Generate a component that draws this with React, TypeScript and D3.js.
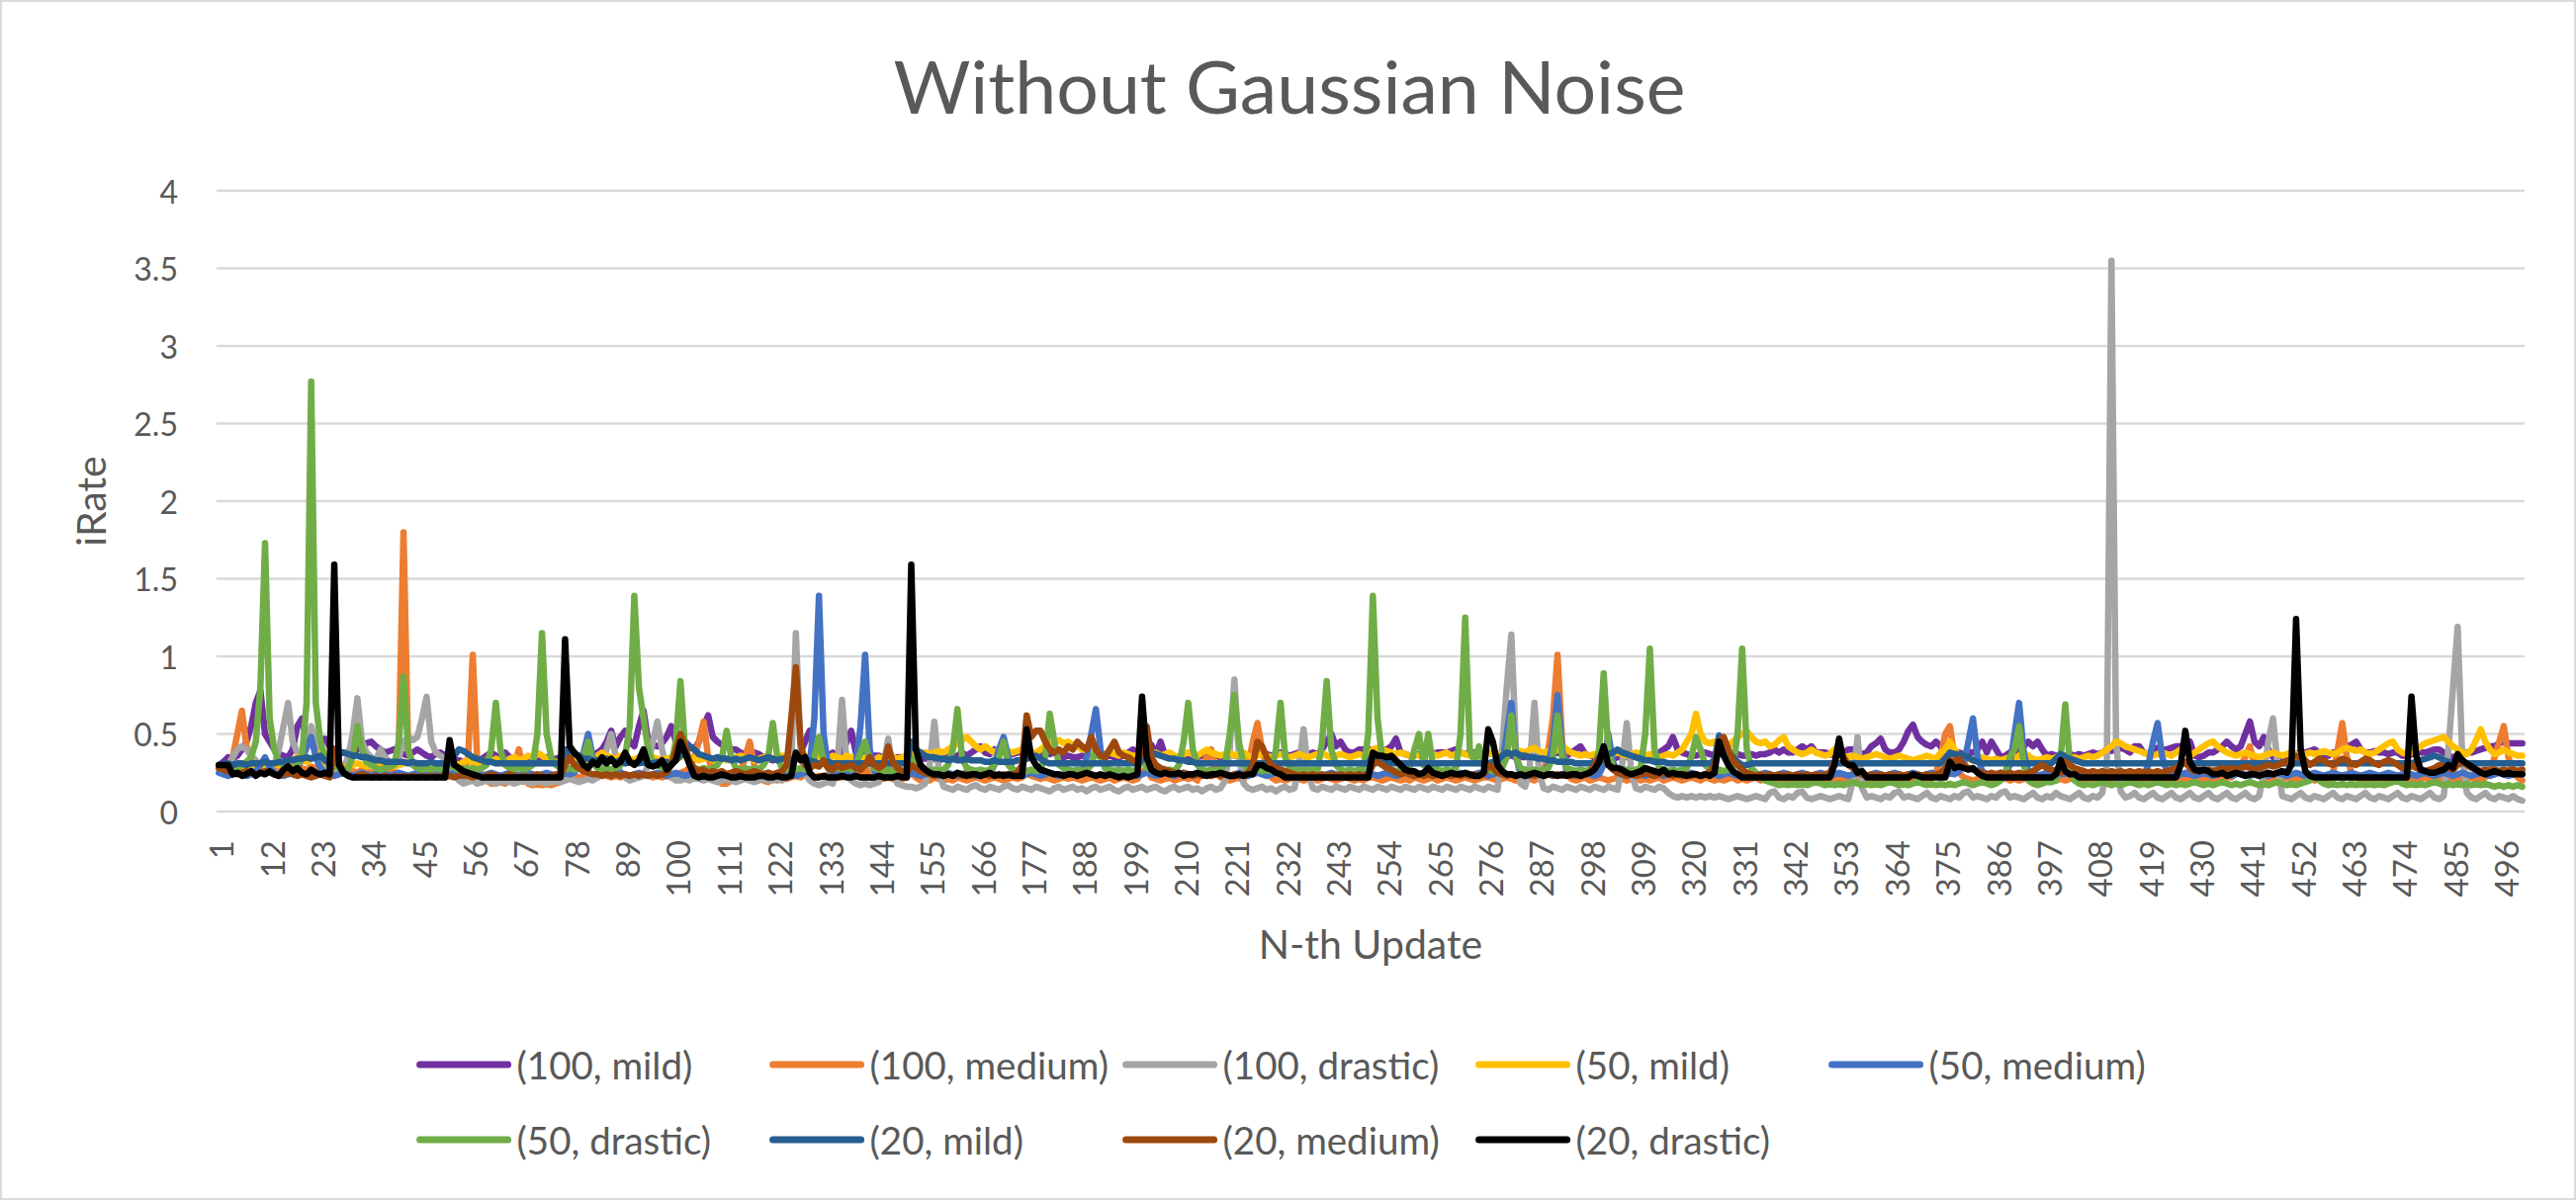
import React from 'react';
import * as d3 from 'd3';

const seriesNames = ['(100, mild)', '(100, medium)', '(100, drastic)', '(50, mild)', '(50, medium)', '(50, drastic)', '(20, mild)', '(20, medium)', '(20, drastic)'];
const seriesColors = ['#7030A0', '#ED7D31', '#A5A5A5', '#FFC000', '#4472C4', '#70AD47', '#255E91', '#9E480E', '#000000'];
const categories = Array.from({ length: 500 }, (_, i) => i + 1);
const xTickLabels = [1,12,23,34,45,56,67,78,89,100,111,122,133,144,155,166,177,188,199,210,221,232,243,254,265,276,287,298,309,320,331,342,353,364,375,386,397,408,419,430,441,452,463,474,485,496];
const yTicks = [0, 0.5, 1, 1.5, 2, 2.5, 3, 3.5, 4];

const s100Mild = [
.30,.32,.35,.34,.36,.40,.45,.55,.70,.78,.50,.45,.40,.37,.36,.35,.40,.55,.60,.45,.43,.44,.46,.47,.42,
.40,.38,.38,.37,.38,.40,.42,.44,.45,.42,.40,.38,.39,.40,.38,.37,.36,.38,.40,.38,.36,.35,.37,.38,.36,
.33,.32,.33,.32,.33,.32,.32,.34,.36,.38,.36,.34,.38,.35,.33,.32,.33,.34,.33,.32,.34,.35,.33,.34,.35,
.33,.35,.34,.36,.35,.34,.36,.38,.40,.45,.52,.42,.48,.52,.45,.42,.55,.65,.45,.43,.42,.44,.48,.55,.45,
.44,.45,.42,.40,.45,.55,.62,.48,.45,.43,.42,.40,.40,.38,.37,.36,.38,.37,.35,.34,.33,.34,.35,.36,.35,
.34,.38,.45,.52,.40,.36,.35,.36,.38,.36,.37,.45,.52,.38,.37,.38,.37,.36,.36,.35,.35,.34,.35,.35,.34,
.34,.35,.34,.34,.35,.34,.33,.34,.35,.35,.36,.38,.36,.38,.40,.42,.38,.37,.40,.38,.39,.38,.37,.38,.38,
.37,.38,.36,.37,.38,.37,.38,.36,.35,.36,.35,.35,.36,.37,.38,.36,.37,.35,.36,.35,.35,.36,.38,.40,.38,
.36,.38,.43,.37,.45,.36,.35,.35,.34,.35,.36,.35,.35,.36,.35,.36,.36,.35,.36,.37,.36,.36,.37,.36,.38,
.37,.38,.37,.36,.37,.38,.37,.36,.37,.38,.38,.37,.38,.37,.40,.45,.50,.42,.45,.40,.38,.38,.40,.40,.40,
.40,.38,.39,.40,.42,.47,.38,.37,.36,.36,.37,.37,.38,.37,.38,.38,.38,.39,.40,.38,.37,.38,.38,.37,.38,
.38,.37,.36,.36,.36,.36,.35,.35,.35,.35,.35,.36,.35,.36,.37,.38,.37,.36,.38,.40,.42,.37,.36,.35,.35,
.35,.35,.34,.35,.35,.35,.36,.35,.36,.35,.36,.37,.38,.40,.42,.48,.40,.38,.37,.36,.36,.37,.38,.37,.36,
.37,.37,.36,.36,.37,.36,.36,.37,.36,.37,.37,.38,.40,.38,.40,.38,.38,.40,.42,.40,.42,.38,.38,.38,.37,
.36,.37,.38,.40,.40,.38,.37,.38,.42,.44,.47,.40,.38,.38,.40,.45,.52,.56,.48,.45,.43,.42,.45,.42,.35,
.36,.38,.38,.37,.38,.38,.40,.45,.38,.45,.40,.35,.36,.38,.40,.38,.42,.45,.42,.45,.40,.36,.37,.36,.36,
.36,.37,.36,.37,.36,.37,.38,.37,.38,.40,.39,.40,.41,.40,.38,.42,.42,.38,.37,.40,.41,.40,.40,.41,.42,
.42,.44,.45,.36,.35,.36,.38,.38,.40,.42,.45,.42,.40,.42,.50,.58,.45,.42,.48,.40,.35,.34,.34,.36,.36,
.37,.38,.38,.39,.40,.38,.36,.36,.38,.38,.40,.42,.43,.45,.40,.38,.38,.39,.38,.38,.37,.38,.38,.36,.36,
.37,.38,.38,.38,.39,.40,.40,.38,.36,.35,.36,.37,.38,.38,.39,.40,.41,.42,.42,.44,.45,.44,.44,.44,.44
];

const s100Medium = [
.28,.27,.30,.35,.50,.65,.42,.35,.30,.28,.27,.28,.27,.29,.28,.27,.28,.30,.28,.27,.29,.28,.27,.26,.27,
.26,.27,.26,.25,.26,.25,.27,.26,.25,.24,.25,.26,.25,.28,.45,1.80,.40,.30,.28,.27,.26,.25,.26,.25,.24,
.24,.23,.22,.22,.35,1.01,.30,.22,.20,.18,.18,.19,.18,.20,.30,.40,.25,.18,.17,.18,.17,.18,.17,.18,.19,
.22,.24,.23,.22,.23,.22,.23,.22,.24,.23,.22,.23,.22,.23,.22,.23,.22,.23,.24,.22,.23,.22,.23,.22,.24,
.25,.26,.28,.35,.45,.58,.35,.25,.20,.18,.18,.20,.22,.25,.35,.45,.30,.22,.20,.19,.21,.20,.22,.21,.22,
.23,.22,.24,.23,.22,.23,.22,.24,.23,.22,.22,.23,.22,.24,.22,.30,.22,.21,.22,.21,.22,.21,.20,.21,.22,
.25,.22,.20,.21,.20,.22,.21,.20,.21,.20,.22,.21,.20,.21,.22,.21,.20,.21,.22,.21,.20,.21,.22,.21,.22,
.25,.23,.22,.21,.22,.21,.20,.21,.22,.21,.22,.21,.20,.21,.22,.21,.20,.21,.22,.20,.21,.22,.21,.20,.21,
.25,.28,.22,.21,.20,.21,.22,.20,.21,.22,.21,.22,.20,.30,.35,.40,.28,.22,.21,.20,.21,.22,.20,.30,.45,
.57,.40,.28,.22,.20,.21,.20,.21,.22,.21,.20,.21,.22,.20,.21,.22,.21,.20,.21,.22,.21,.20,.21,.20,.22,
.22,.21,.20,.21,.22,.21,.20,.21,.20,.22,.21,.20,.21,.22,.20,.21,.22,.21,.20,.21,.22,.21,.20,.21,.22,
.22,.21,.20,.21,.22,.21,.20,.21,.22,.21,.20,.22,.25,.40,.60,1.01,.45,.25,.21,.20,.21,.22,.20,.21,.22,
.21,.20,.21,.22,.21,.20,.21,.22,.20,.21,.20,.21,.22,.20,.21,.22,.21,.20,.21,.22,.21,.20,.22,.21,.20,
.21,.20,.21,.22,.20,.21,.20,.21,.22,.20,.21,.20,.21,.22,.20,.21,.20,.21,.22,.20,.21,.20,.21,.22,.20,
.21,.20,.21,.22,.20,.21,.20,.21,.22,.20,.21,.20,.21,.22,.20,.21,.20,.21,.22,.20,.21,.22,.25,.35,.50,
.55,.35,.25,.22,.21,.20,.21,.22,.20,.21,.20,.21,.22,.20,.21,.20,.21,.22,.20,.21,.20,.21,.22,.20,.21,
.20,.21,.22,.20,.21,.20,.21,.22,.20,.21,.20,.21,.22,.20,.21,.20,.21,.22,.20,.21,.20,.21,.22,.20,.21,
.20,.21,.22,.20,.21,.20,.21,.22,.20,.21,.22,.22,.25,.30,.35,.42,.30,.25,.22,.20,.21,.20,.21,.22,.20,
.21,.20,.21,.22,.20,.21,.20,.21,.25,.40,.57,.35,.25,.22,.20,.21,.20,.21,.22,.20,.21,.20,.21,.22,.20,
.21,.20,.21,.22,.20,.21,.20,.21,.22,.20,.21,.20,.21,.22,.20,.21,.22,.25,.35,.45,.55,.35,.25,.22,.20
];

const s100Drastic = [
.30,.28,.30,.35,.40,.42,.40,.36,.33,.30,.28,.27,.30,.40,.55,.70,.45,.38,.35,.40,.55,.45,.35,.30,.28,
.26,.27,.28,.35,.50,.73,.45,.38,.35,.33,.40,.35,.32,.30,.35,.45,.48,.46,.48,.60,.74,.45,.38,.36,.34,
.30,.25,.20,.18,.19,.20,.18,.19,.20,.19,.18,.19,.20,.19,.18,.19,.20,.19,.18,.20,.19,.18,.19,.20,.19,
.20,.21,.20,.19,.20,.21,.20,.22,.30,.40,.50,.35,.25,.22,.20,.21,.22,.23,.30,.45,.58,.40,.28,.22,.20,
.20,.21,.20,.22,.21,.20,.21,.20,.19,.20,.21,.20,.19,.20,.21,.20,.19,.20,.21,.20,.20,.21,.20,.22,.30,
1.15,.40,.25,.20,.18,.17,.18,.19,.18,.30,.72,.30,.20,.18,.17,.18,.17,.18,.19,.30,.47,.25,.18,.17,.16,
.16,.15,.16,.18,.30,.58,.25,.16,.15,.14,.16,.15,.14,.16,.17,.15,.14,.16,.15,.14,.16,.17,.15,.14,.16,
.15,.14,.16,.15,.14,.13,.15,.16,.14,.15,.16,.14,.15,.13,.15,.16,.14,.15,.16,.14,.13,.15,.16,.14,.15,
.16,.14,.15,.16,.14,.13,.15,.16,.14,.15,.16,.14,.15,.13,.15,.16,.14,.15,.20,.40,.85,.35,.18,.15,.14,
.15,.16,.14,.15,.13,.15,.16,.14,.15,.30,.53,.25,.15,.14,.16,.15,.14,.16,.15,.14,.16,.15,.14,.16,.15,
.14,.16,.15,.14,.16,.15,.14,.16,.15,.14,.16,.15,.14,.16,.15,.14,.16,.15,.14,.16,.15,.14,.16,.15,.14,
.16,.15,.14,.40,.80,1.14,.40,.18,.16,.30,.70,.25,.15,.14,.16,.15,.14,.16,.15,.14,.16,.15,.14,.16,.15,
.14,.16,.15,.14,.30,.57,.25,.15,.14,.16,.15,.14,.16,.15,.12,.10,.09,.10,.09,.10,.09,.10,.09,.10,.09,
.10,.09,.08,.09,.10,.09,.08,.09,.10,.09,.08,.12,.13,.09,.08,.10,.09,.12,.13,.09,.08,.09,.10,.09,.08,
.09,.10,.09,.08,.20,.48,.15,.09,.10,.09,.08,.10,.09,.12,.13,.09,.10,.09,.08,.10,.12,.09,.08,.10,.09,
.08,.10,.09,.12,.13,.09,.10,.09,.08,.10,.09,.12,.13,.09,.10,.09,.08,.10,.12,.09,.08,.10,.09,.12,.10,
.09,.08,.10,.12,.09,.08,.10,.09,.12,.30,3.55,.45,.13,.09,.10,.12,.09,.08,.10,.12,.09,.08,.10,.12,.09,
.08,.10,.12,.09,.08,.10,.12,.09,.08,.10,.12,.09,.08,.10,.12,.09,.08,.10,.25,.45,.60,.30,.10,.09,.08,
.10,.12,.09,.08,.10,.09,.08,.10,.12,.09,.08,.10,.09,.08,.10,.12,.09,.08,.10,.09,.08,.10,.12,.09,.08,
.10,.09,.08,.10,.12,.09,.08,.10,.40,.80,1.19,.35,.12,.09,.08,.10,.12,.09,.08,.10,.09,.08,.10,.08,.07
];

const s50Mild = [
.28,.27,.28,.29,.28,.27,.28,.29,.30,.28,.29,.30,.31,.30,.31,.32,.33,.35,.33,.32,.34,.36,.38,.32,.30,
.29,.30,.28,.29,.30,.31,.30,.29,.30,.31,.30,.31,.30,.29,.30,.31,.32,.31,.30,.31,.30,.29,.30,.31,.30,
.30,.31,.30,.32,.33,.32,.31,.32,.33,.32,.34,.33,.32,.34,.35,.33,.34,.36,.35,.38,.36,.34,.33,.32,.31,
.32,.34,.33,.35,.34,.33,.35,.36,.38,.36,.35,.34,.36,.35,.34,.33,.35,.34,.33,.35,.34,.33,.34,.35,.34,
.35,.36,.34,.35,.33,.34,.35,.33,.34,.35,.33,.34,.35,.36,.34,.35,.33,.34,.35,.36,.34,.35,.36,.35,.34,
.35,.34,.36,.35,.34,.36,.35,.34,.36,.35,.34,.36,.35,.34,.33,.35,.34,.33,.35,.34,.33,.35,.34,.35,.36,
.36,.37,.38,.38,.37,.38,.39,.38,.40,.42,.44,.46,.48,.45,.42,.40,.42,.40,.38,.40,.41,.39,.38,.39,.40,
.38,.37,.38,.40,.42,.43,.45,.46,.44,.45,.43,.42,.40,.39,.38,.40,.38,.37,.38,.37,.36,.38,.37,.36,.36,
.35,.36,.37,.38,.36,.37,.38,.36,.35,.37,.38,.37,.36,.38,.40,.38,.37,.36,.37,.38,.36,.37,.38,.36,.35,
.36,.37,.36,.35,.36,.37,.36,.35,.36,.37,.36,.35,.36,.37,.38,.36,.35,.36,.37,.36,.35,.36,.37,.36,.37,
.40,.41,.40,.39,.38,.37,.38,.37,.36,.37,.36,.37,.38,.37,.36,.37,.38,.36,.37,.38,.37,.36,.37,.38,.37,
.38,.37,.36,.37,.38,.37,.38,.39,.38,.40,.41,.39,.38,.39,.38,.40,.42,.40,.38,.37,.36,.37,.36,.37,.36,
.37,.36,.37,.38,.37,.36,.37,.38,.37,.36,.37,.36,.35,.36,.37,.36,.38,.40,.45,.50,.63,.50,.45,.44,.45,
.42,.40,.42,.45,.48,.50,.52,.48,.45,.44,.45,.42,.43,.46,.48,.42,.40,.38,.37,.38,.40,.38,.37,.36,.37,
.40,.38,.36,.35,.36,.35,.34,.35,.36,.37,.36,.35,.34,.35,.36,.35,.34,.33,.34,.35,.36,.35,.34,.38,.40,
.45,.40,.36,.35,.34,.33,.34,.35,.34,.33,.34,.33,.34,.35,.34,.36,.38,.36,.34,.33,.34,.35,.34,.35,.36,
.35,.34,.35,.34,.35,.36,.35,.36,.38,.40,.42,.45,.44,.42,.41,.40,.39,.38,.37,.36,.37,.38,.37,.36,.38,
.40,.38,.36,.38,.40,.42,.44,.45,.42,.40,.38,.37,.36,.37,.38,.37,.36,.35,.36,.37,.38,.37,.36,.37,.38,
.37,.36,.37,.38,.37,.38,.39,.38,.37,.38,.40,.41,.40,.39,.40,.38,.37,.38,.40,.42,.44,.45,.40,.38,.37,
.38,.40,.42,.44,.45,.46,.47,.48,.45,.42,.40,.38,.37,.40,.46,.53,.45,.40,.37,.38,.40,.38,.37,.36,.36
];

const s50Medium = [
.25,.24,.23,.24,.25,.24,.23,.24,.26,.30,.35,.28,.25,.24,.23,.24,.25,.28,.35,.42,.48,.35,.28,.25,.24,
.23,.24,.25,.24,.23,.24,.25,.24,.23,.24,.25,.24,.23,.24,.25,.24,.23,.24,.25,.24,.23,.24,.25,.24,.23,
.24,.25,.24,.23,.24,.25,.24,.23,.24,.25,.24,.23,.24,.25,.24,.23,.24,.25,.24,.23,.24,.25,.24,.23,.24,
.25,.24,.25,.30,.38,.50,.35,.28,.25,.24,.23,.24,.25,.24,.23,.24,.25,.24,.23,.24,.25,.24,.23,.24,.25,
.24,.23,.24,.25,.24,.23,.24,.25,.24,.23,.24,.25,.24,.23,.24,.25,.24,.23,.24,.25,.24,.23,.24,.25,.24,
.23,.24,.25,.30,.60,1.39,.50,.28,.25,.24,.23,.24,.25,.30,.55,1.01,.40,.26,.24,.23,.24,.25,.24,.23,.24,
.25,.24,.23,.24,.25,.24,.23,.24,.25,.24,.23,.24,.25,.24,.23,.24,.25,.24,.30,.40,.48,.35,.26,.24,.23,
.24,.25,.24,.23,.24,.25,.24,.23,.24,.25,.24,.23,.25,.35,.50,.66,.40,.28,.25,.24,.23,.24,.25,.24,.23,
.24,.25,.24,.23,.24,.25,.24,.23,.24,.25,.24,.23,.24,.25,.24,.23,.24,.25,.24,.23,.24,.25,.24,.23,.24,
.25,.24,.23,.24,.25,.24,.23,.24,.25,.24,.23,.24,.25,.24,.23,.24,.25,.24,.23,.24,.25,.24,.23,.24,.25,
.24,.23,.24,.25,.24,.23,.24,.25,.24,.23,.24,.25,.24,.23,.24,.25,.24,.23,.24,.25,.24,.23,.24,.25,.24,
.23,.24,.25,.30,.50,.70,.35,.26,.24,.23,.24,.25,.26,.30,.45,.75,.40,.26,.24,.23,.24,.25,.24,.23,.24,
.30,.50,.32,.25,.24,.23,.24,.25,.24,.23,.24,.25,.24,.23,.24,.25,.24,.23,.24,.25,.24,.23,.24,.25,.24,
.23,.24,.25,.24,.23,.24,.25,.24,.23,.24,.25,.24,.23,.24,.25,.24,.23,.24,.25,.24,.23,.24,.25,.24,.23,
.24,.25,.24,.23,.24,.25,.24,.23,.24,.25,.24,.23,.24,.25,.24,.23,.24,.25,.24,.23,.24,.25,.24,.23,.24,
.25,.24,.26,.30,.45,.60,.35,.26,.24,.23,.24,.25,.24,.30,.50,.70,.38,.26,.24,.23,.24,.25,.24,.23,.24,
.25,.24,.23,.24,.25,.24,.23,.24,.25,.24,.23,.24,.25,.24,.23,.24,.25,.24,.30,.45,.57,.35,.26,.24,.23,
.24,.25,.24,.23,.24,.25,.24,.23,.24,.25,.24,.23,.24,.25,.24,.23,.24,.25,.24,.23,.24,.25,.24,.23,.24,
.25,.24,.23,.24,.25,.24,.23,.24,.25,.24,.23,.24,.25,.24,.23,.24,.25,.24,.23,.24,.25,.24,.23,.24,.25,
.24,.23,.24,.25,.24,.23,.24,.25,.24,.23,.24,.25,.24,.23,.24,.25,.24,.23,.24,.25,.24,.23,.24,.25,.24
];

const s50Drastic = [
.28,.27,.28,.27,.28,.30,.32,.35,.45,.80,1.73,.60,.40,.32,.30,.29,.28,.30,.35,.70,2.77,.70,.45,.35,.30,
.29,.28,.27,.28,.35,.55,.40,.32,.30,.28,.27,.28,.29,.30,.45,.87,.40,.30,.28,.27,.28,.27,.28,.27,.28,
.30,.28,.27,.28,.27,.28,.27,.28,.30,.40,.70,.40,.30,.28,.27,.28,.27,.28,.30,.50,1.15,.50,.35,.30,.28,
.27,.28,.27,.28,.35,.45,.32,.28,.27,.28,.27,.28,.30,.35,.55,1.39,.80,.60,.40,.32,.30,.28,.27,.30,.45,
.84,.40,.30,.28,.27,.28,.27,.28,.30,.35,.52,.35,.28,.27,.28,.27,.28,.27,.30,.35,.57,.35,.28,.27,.28,
.27,.28,.27,.28,.35,.48,.32,.28,.27,.28,.27,.28,.27,.30,.38,.45,.32,.28,.27,.26,.27,.26,.27,.26,.27,
.35,.28,.26,.27,.26,.27,.26,.27,.30,.40,.66,.35,.28,.27,.26,.27,.26,.27,.30,.35,.45,.30,.27,.26,.27,
.26,.27,.26,.27,.35,.63,.45,.30,.28,.27,.26,.27,.26,.27,.30,.40,.35,.28,.27,.26,.27,.26,.27,.26,.27,
.35,.28,.27,.26,.27,.26,.27,.26,.30,.45,.70,.40,.30,.27,.26,.27,.26,.27,.30,.50,.75,.45,.30,.27,.26,
.27,.26,.27,.26,.40,.70,.35,.28,.27,.26,.27,.26,.27,.26,.45,.84,.40,.30,.27,.26,.27,.26,.27,.28,.50,
1.39,.60,.35,.28,.27,.26,.27,.26,.28,.40,.50,.30,.50,.30,.27,.26,.27,.26,.28,.50,1.25,.40,.32,.42,.30,
.27,.26,.27,.28,.35,.62,.35,.28,.27,.26,.27,.26,.27,.28,.35,.62,.35,.28,.27,.26,.27,.26,.27,.28,.40,
.89,.40,.28,.27,.26,.27,.26,.27,.28,.50,1.05,.40,.28,.27,.26,.27,.26,.27,.28,.35,.48,.40,.30,.27,.26,
.27,.26,.27,.28,.50,1.05,.40,.28,.25,.22,.20,.19,.18,.17,.18,.17,.18,.17,.18,.17,.18,.19,.18,.17,.18,
.17,.18,.17,.18,.19,.18,.17,.18,.17,.18,.17,.18,.19,.18,.17,.18,.17,.18,.19,.18,.17,.18,.17,.18,.17,
.18,.17,.18,.19,.18,.17,.18,.19,.18,.17,.18,.20,.25,.35,.40,.55,.30,.20,.18,.17,.18,.19,.19,.20,.35,
.69,.30,.20,.18,.17,.18,.17,.18,.19,.18,.17,.18,.17,.18,.19,.18,.17,.18,.17,.18,.19,.18,.17,.18,.17,
.18,.17,.18,.19,.18,.17,.18,.17,.18,.19,.18,.17,.18,.17,.18,.19,.18,.17,.18,.17,.18,.19,.18,.17,.18,
.17,.18,.19,.20,.22,.20,.18,.17,.18,.17,.18,.17,.18,.17,.18,.17,.18,.17,.18,.17,.18,.19,.20,.18,.17,
.18,.17,.18,.17,.18,.19,.18,.17,.18,.17,.18,.17,.18,.17,.18,.17,.18,.17,.16,.17,.16,.17,.16,.17,.16
];

const s20Mild = [
.30,.30,.31,.30,.31,.31,.30,.31,.31,.31,.32,.31,.31,.32,.32,.33,.33,.34,.34,.35,.34,.35,.36,.33,.31,
.37,.38,.38,.37,.36,.36,.35,.35,.34,.33,.33,.32,.32,.32,.32,.32,.31,.32,.31,.31,.31,.32,.31,.31,.31,
.31,.36,.40,.39,.37,.35,.34,.33,.32,.32,.31,.31,.31,.31,.31,.31,.31,.31,.31,.31,.31,.31,.31,.31,.31,
.40,.38,.37,.36,.34,.34,.33,.33,.32,.34,.33,.32,.33,.31,.32,.31,.31,.32,.31,.31,.32,.31,.32,.31,.33,
.36,.38,.42,.40,.37,.36,.35,.34,.35,.34,.34,.33,.34,.33,.34,.35,.34,.33,.34,.35,.34,.33,.34,.34,.33,
.36,.34,.33,.33,.32,.31,.31,.32,.31,.31,.31,.31,.31,.31,.31,.31,.31,.31,.31,.31,.31,.31,.31,.31,.31,
.45,.40,.38,.36,.35,.35,.34,.34,.33,.34,.33,.33,.34,.33,.33,.33,.32,.32,.33,.32,.32,.32,.32,.33,.33,
.34,.35,.36,.34,.32,.31,.31,.31,.31,.31,.31,.31,.31,.31,.31,.31,.31,.31,.31,.31,.31,.31,.31,.31,.31,
.33,.37,.38,.37,.36,.35,.34,.34,.33,.33,.32,.32,.31,.31,.31,.31,.31,.31,.31,.31,.31,.31,.31,.31,.31,
.31,.31,.31,.31,.31,.31,.31,.31,.31,.31,.31,.31,.31,.31,.31,.31,.31,.31,.31,.31,.31,.31,.31,.31,.31,
.36,.34,.33,.32,.31,.31,.31,.31,.31,.31,.31,.31,.31,.31,.31,.31,.31,.31,.31,.31,.31,.31,.31,.31,.31,
.31,.32,.33,.36,.38,.37,.38,.36,.36,.35,.35,.34,.34,.33,.33,.32,.32,.32,.32,.31,.31,.31,.31,.31,.32,
.34,.37,.38,.40,.38,.37,.36,.35,.34,.33,.33,.32,.32,.32,.31,.31,.31,.31,.31,.31,.31,.31,.31,.31,.33,
.49,.42,.38,.35,.32,.30,.30,.31,.31,.31,.31,.31,.31,.31,.31,.31,.31,.31,.31,.31,.31,.31,.31,.31,.31,
.31,.31,.31,.31,.31,.31,.31,.31,.31,.31,.31,.31,.31,.31,.31,.31,.31,.31,.31,.31,.31,.31,.31,.31,.34,
.38,.37,.37,.36,.35,.33,.32,.31,.31,.31,.31,.31,.31,.31,.31,.31,.31,.31,.31,.31,.31,.31,.31,.34,.37,
.35,.34,.33,.32,.31,.31,.31,.31,.31,.31,.31,.31,.31,.31,.31,.31,.31,.31,.31,.31,.31,.31,.31,.31,.31,
.31,.31,.31,.31,.31,.31,.31,.31,.31,.31,.31,.31,.31,.31,.31,.31,.31,.31,.31,.31,.31,.31,.31,.31,.31,
.31,.31,.31,.31,.31,.31,.31,.31,.31,.31,.31,.31,.31,.31,.31,.31,.31,.31,.31,.31,.31,.31,.31,.31,.31,
.31,.32,.33,.34,.35,.36,.35,.33,.32,.31,.31,.31,.31,.31,.31,.31,.31,.31,.31,.31,.31,.31,.31,.31,.31
];

const s20Medium = [
.28,.27,.26,.25,.24,.25,.26,.25,.24,.25,.26,.25,.24,.23,.24,.25,.24,.23,.24,.23,.22,.23,.24,.23,.22,
.40,.32,.25,.23,.22,.23,.24,.23,.22,.23,.22,.23,.22,.23,.22,.23,.22,.23,.22,.23,.22,.23,.22,.23,.22,
.23,.22,.23,.24,.23,.22,.23,.22,.23,.24,.23,.22,.23,.24,.23,.22,.23,.22,.23,.24,.23,.22,.23,.24,.23,
.30,.35,.30,.28,.26,.25,.24,.24,.23,.24,.23,.24,.23,.24,.23,.24,.23,.24,.23,.24,.23,.24,.25,.30,.40,
.50,.42,.32,.28,.26,.27,.25,.26,.25,.26,.24,.25,.26,.25,.24,.25,.26,.25,.24,.25,.24,.25,.26,.30,.60,
.93,.45,.30,.28,.30,.29,.33,.28,.27,.30,.28,.29,.30,.28,.27,.30,.35,.30,.28,.30,.42,.32,.28,.26,.25,
.30,.28,.26,.25,.24,.23,.24,.23,.24,.23,.24,.23,.24,.23,.24,.23,.24,.23,.24,.23,.24,.23,.24,.25,.30,
.62,.48,.52,.52,.45,.40,.38,.40,.38,.42,.40,.45,.42,.40,.48,.40,.36,.35,.40,.45,.38,.36,.35,.33,.32,
.40,.55,.35,.30,.28,.27,.26,.25,.24,.25,.24,.23,.24,.23,.24,.23,.24,.23,.24,.23,.24,.23,.24,.25,.30,
.45,.42,.35,.30,.28,.27,.26,.25,.24,.23,.24,.23,.24,.23,.24,.23,.24,.23,.24,.23,.24,.23,.24,.23,.24,
.30,.32,.30,.28,.27,.25,.24,.25,.24,.23,.24,.23,.24,.23,.24,.23,.24,.23,.24,.23,.24,.23,.24,.23,.24,
.30,.28,.25,.24,.23,.24,.23,.24,.23,.24,.23,.24,.23,.24,.23,.24,.23,.24,.23,.24,.23,.24,.25,.30,.35,
.38,.30,.27,.25,.24,.23,.24,.23,.24,.25,.24,.23,.24,.25,.24,.23,.24,.23,.24,.23,.24,.23,.24,.25,.30,
.45,.48,.40,.33,.30,.27,.25,.24,.23,.24,.23,.24,.23,.24,.23,.24,.23,.24,.23,.24,.23,.24,.23,.24,.25,
.32,.40,.35,.30,.28,.25,.24,.23,.24,.23,.24,.23,.24,.23,.24,.23,.24,.23,.24,.23,.24,.23,.24,.25,.28,
.33,.32,.34,.30,.28,.27,.26,.25,.24,.25,.24,.25,.24,.25,.24,.25,.24,.25,.26,.28,.30,.28,.27,.26,.25,
.32,.30,.28,.27,.26,.25,.26,.25,.26,.25,.26,.25,.26,.25,.26,.25,.26,.25,.26,.25,.26,.25,.26,.27,.28,
.30,.32,.28,.26,.27,.26,.27,.26,.27,.28,.27,.28,.27,.28,.29,.28,.27,.28,.29,.30,.29,.30,.31,.32,.34,
.36,.34,.33,.30,.32,.34,.33,.31,.30,.32,.34,.33,.31,.30,.32,.34,.33,.31,.30,.32,.33,.32,.30,.28,.27,
.30,.28,.27,.26,.27,.28,.30,.29,.28,.27,.30,.32,.30,.28,.27,.26,.27,.26,.27,.26,.27,.26,.27,.26,.27
];

const s20Drastic = [
.30,.30,.30,.24,.25,.23,.24,.26,.23,.25,.24,.26,.24,.23,.27,.29,.26,.28,.25,.24,.27,.25,.24,.25,.24,
1.59,.30,.25,.23,.22,.22,.22,.22,.22,.22,.22,.22,.22,.22,.22,.22,.22,.22,.22,.22,.22,.22,.22,.22,.22,
.46,.30,.28,.26,.25,.24,.23,.22,.22,.22,.22,.22,.22,.22,.22,.22,.22,.22,.22,.22,.22,.22,.22,.22,.22,
1.11,.42,.38,.35,.30,.28,.32,.30,.35,.31,.34,.30,.32,.38,.32,.30,.33,.40,.30,.29,.30,.33,.27,.30,.33,
.45,.38,.30,.23,.22,.23,.22,.22,.23,.24,.23,.22,.22,.23,.22,.22,.22,.23,.23,.22,.22,.23,.22,.22,.23,
.38,.33,.35,.25,.22,.22,.23,.22,.22,.22,.23,.22,.22,.23,.22,.22,.22,.22,.23,.22,.22,.22,.23,.22,.22,
1.59,.40,.30,.27,.25,.24,.24,.23,.24,.23,.25,.24,.23,.24,.24,.23,.24,.25,.23,.24,.23,.24,.23,.23,.23,
.53,.35,.30,.27,.26,.25,.24,.24,.23,.24,.24,.23,.24,.25,.24,.23,.24,.23,.24,.23,.22,.23,.22,.23,.24,
.74,.35,.27,.25,.24,.25,.24,.24,.25,.23,.24,.24,.25,.24,.23,.24,.24,.25,.24,.23,.23,.24,.23,.24,.24,
.30,.30,.28,.27,.25,.24,.22,.22,.22,.22,.22,.22,.22,.22,.22,.22,.22,.22,.22,.22,.22,.22,.22,.22,.22,
.38,.36,.36,.35,.36,.33,.30,.27,.26,.26,.24,.25,.28,.25,.24,.23,.24,.25,.24,.24,.25,.24,.23,.23,.25,
.53,.45,.30,.26,.24,.24,.23,.24,.23,.24,.25,.24,.23,.24,.24,.23,.24,.23,.24,.24,.23,.24,.25,.27,.32,
.42,.30,.28,.28,.27,.25,.24,.25,.26,.28,.27,.26,.25,.27,.24,.25,.24,.24,.23,.24,.24,.23,.24,.23,.25,
.45,.36,.30,.26,.24,.22,.22,.22,.22,.22,.22,.22,.22,.22,.22,.22,.22,.22,.22,.22,.22,.22,.22,.22,.22,
.30,.47,.32,.30,.30,.25,.26,.22,.22,.22,.22,.22,.22,.22,.22,.22,.22,.24,.23,.22,.22,.22,.22,.22,.22,
.32,.28,.29,.28,.27,.28,.25,.23,.22,.22,.22,.22,.22,.22,.22,.22,.22,.22,.22,.22,.22,.22,.22,.24,.33,
.26,.24,.24,.22,.22,.22,.22,.22,.22,.22,.22,.22,.22,.22,.22,.22,.22,.22,.22,.22,.22,.22,.22,.22,.22,
.30,.52,.32,.27,.26,.27,.26,.24,.24,.25,.23,.24,.25,.24,.23,.24,.24,.23,.24,.25,.24,.25,.26,.25,.30,
1.24,.40,.26,.23,.22,.22,.22,.22,.22,.22,.22,.22,.22,.22,.22,.22,.22,.22,.22,.22,.22,.22,.22,.22,.22,
.74,.36,.27,.26,.25,.25,.26,.27,.30,.28,.37,.33,.31,.29,.27,.25,.24,.25,.26,.25,.24,.25,.24,.24,.24
];

const seriesValues = [s100Mild, s100Medium, s100Drastic, s50Mild, s50Medium, s50Drastic, s20Mild, s20Medium, s20Drastic];

const FONT = "Lato, 'Noto Sans', 'DejaVu Sans', sans-serif";
const TEXT = '#595959';
const GRID = '#D9D9D9';

export default function App() {
  const W = 2605;
  const H = 1214;
  const plotLeft = 219;
  const plotRight = 2553;
  const plotTop = 193;
  const plotBottom = 821;

  const x = d3.scalePoint<number>().domain(categories).range([plotLeft, plotRight]).padding(0.5);
  const y = d3.scaleLinear().domain([0, 4]).range([plotBottom, plotTop]);

  const line = d3
    .line<number>()
    .defined((_, i) => i < categories.length)
    .x((_, i) => x(categories[i]) as number)
    .y((d) => y(d));

  const legendX0 = 421.6;
  const legendColW = 357;
  const legendRows = [1077, 1153];

  return (
    <svg
      width={W}
      height={H}
      viewBox={`0 0 ${W} ${H}`}
      style={{ position: 'absolute', left: 0, top: 0, background: '#fff' }}
      fontFamily={FONT}
    >
      <rect x={1} y={1} width={W - 2} height={H - 2} fill="#fff" stroke={GRID} strokeWidth={2} />

      <text x={1304} y={115} textAnchor="middle" fontSize={73} fill={TEXT} textLength={801} lengthAdjust="spacingAndGlyphs">
        Without Gaussian Noise
      </text>

      {yTicks.map((t) => (
        <g key={`g${t}`}>
          <line x1={plotLeft} x2={plotRight} y1={y(t)} y2={y(t)} stroke={GRID} strokeWidth={2.5} />
          <text x={180} y={y(t)} textAnchor="end" dominantBaseline="central" fontSize={32} fill={TEXT}>
            {t}
          </text>
        </g>
      ))}

      {xTickLabels.map((c) => (
        <text
          key={`x${c}`}
          transform={`translate(${(x(c) as number) + 2},850) rotate(-90)`}
          textAnchor="end"
          dominantBaseline="central"
          fontSize={33}
          fill={TEXT}
        >
          {c}
        </text>
      ))}

      <text x={1386} y={970} textAnchor="middle" fontSize={41} fill={TEXT}>
        N-th Update
      </text>
      <text transform="translate(91,507) rotate(-90)" textAnchor="middle" dominantBaseline="central" fontSize={41} fill={TEXT}>
        iRate
      </text>

      <g fill="none" strokeLinejoin="round" strokeLinecap="round">
        {seriesValues.map((vals, si) => (
          <path key={seriesNames[si]} d={line(vals) || ''} stroke={seriesColors[si]} strokeWidth={6.5} />
        ))}
      </g>

      {seriesNames.map((name, i) => {
        const col = i % 5;
        const row = Math.floor(i / 5);
        const lx = legendX0 + col * legendColW;
        const ly = legendRows[row];
        return (
          <g key={`l${name}`}>
            <line x1={lx + 3} x2={lx + 92} y1={ly} y2={ly} stroke={seriesColors[i]} strokeWidth={7} strokeLinecap="round" />
            <text x={lx + 101} y={ly} dominantBaseline="central" fontSize={38.5} fill={TEXT}>
              {name}
            </text>
          </g>
        );
      })}
    </svg>
  );
}
